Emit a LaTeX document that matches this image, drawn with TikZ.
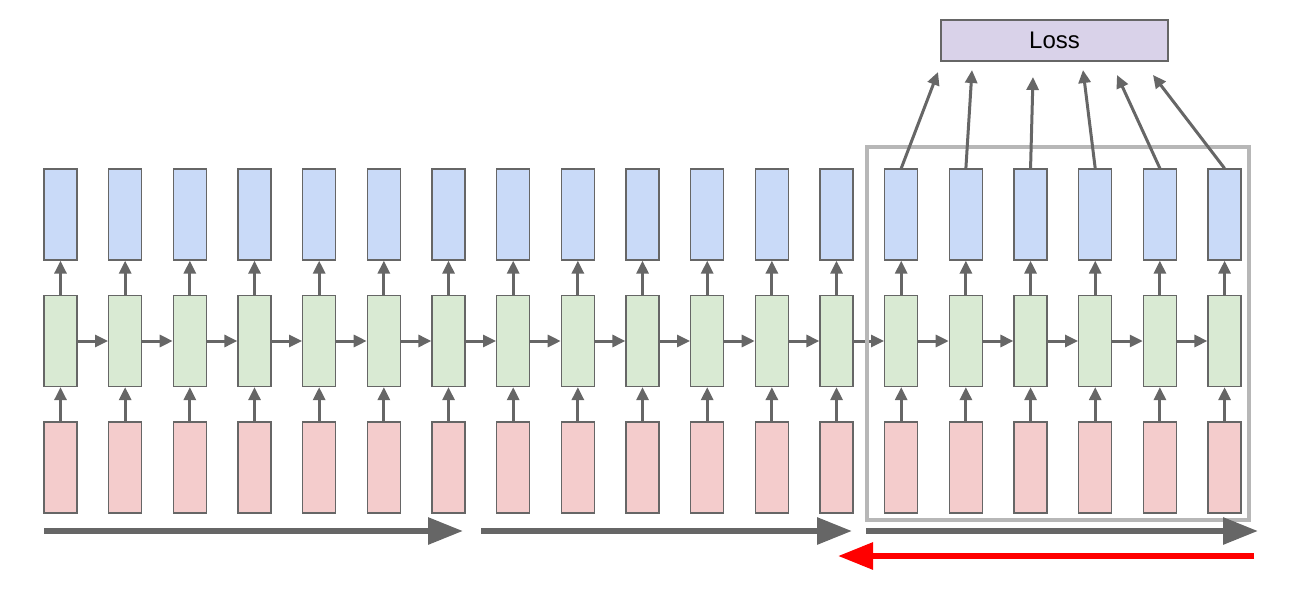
\documentclass[tikz,border=0pt]{standalone}
\usepackage{fontspec}
\setmainfont{Liberation Sans}
\usetikzlibrary{arrows.meta}

\definecolor{inblue}{HTML}{C9DAF8}
\definecolor{hidgreen}{HTML}{D9EAD3}
\definecolor{inred}{HTML}{F4CCCC}
\definecolor{losslav}{HTML}{D9D2E9}
\definecolor{edgegray}{HTML}{666666}
\definecolor{framegray}{HTML}{B7B7B7}

\tikzset{
  cell/.style={draw=edgegray, line width=1.3pt, minimum width=33pt, minimum height=91pt, inner sep=0pt},
  arr/.style={draw=edgegray, line width=3pt, -{Triangle[length=13pt,width=12pt]}},
  bigarr/.style={line width=6pt, -{Triangle[length=35pt,width=26pt]}}
}

\begin{document}
\begin{tikzpicture}[x=1pt,y=-1pt]
\useasboundingbox (0,0) rectangle (1304,605);

\foreach \i in {1,...,19} {
  \pgfmathsetmacro{\cx}{60.5+(\i-1)*64.67}
  \node[cell, fill=inblue] (y\i) at (\cx,214.5) {};
  \node[cell, fill=hidgreen] (h\i) at (\cx,341) {};
  \node[cell, fill=inred] (x\i) at (\cx,467.5) {};
  \draw[arr] (x\i) -- (h\i);
  \draw[arr] (h\i) -- (y\i);
}
\foreach \i [evaluate=\i as \j using int(\i+1)] in {1,...,18}
  \draw[arr] (h\i) -- (h\j);

% truncated window
\draw[framegray, line width=4pt] (867,147) rectangle (1249,520);

\node[draw=edgegray, line width=1.3pt, fill=losslav, minimum width=227pt, minimum height=41pt,
  font=\fontsize{24}{28}\selectfont] (loss) at (1054.5,40.5) {Loss};

\foreach \i/\tx/\ty in {14/938/72, 15/972/70, 16/1033/77, 17/1083/70, 18/1117/75, 19/1153/75} {
  \coordinate (l\i) at (\tx,\ty);
  \draw[arr] (y\i.north) -- (l\i);
}

% forward and backward passes
\coordinate (f1s) at (44,531);
\coordinate (f1e) at (463,531);
\coordinate (f2s) at (481,531);
\coordinate (f2e) at (852,531);
\coordinate (f3s) at (866,531);
\coordinate (f3e) at (1258,531);
\coordinate (bs) at (1254,556);
\coordinate (be) at (838,556);

\draw[bigarr, edgegray] (f1s) -- (f1e);
\draw[bigarr, edgegray] (f2s) -- (f2e);
\draw[bigarr, edgegray] (f3s) -- (f3e);
\draw[bigarr, red] (bs) -- (be);
\end{tikzpicture}
\end{document}
